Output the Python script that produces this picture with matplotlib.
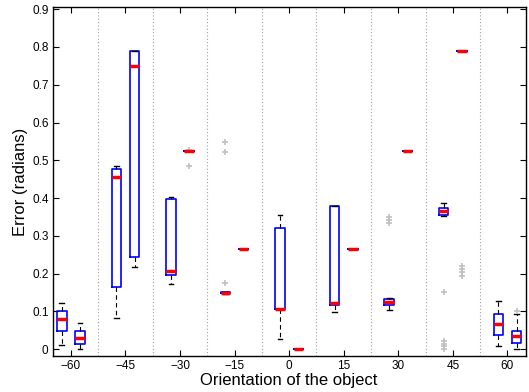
import matplotlib
matplotlib.use("Agg")
import matplotlib.pyplot as plt

# orientation groups (degrees), two boxes per group
orientations = [-60, -45, -30, -15, 0, 15, 30, 45, 60]

# box statistics, two boxes per orientation (left, right)
medians = [0.080, 0.030, 0.456, 0.750, 0.206, 0.525, 0.150, 0.265, 0.107,
           0.001, 0.123, 0.265, 0.124, 0.525, 0.365, 0.790, 0.066, 0.035]
q1 = [0.048, 0.015, 0.165, 0.243, 0.196, 0.525, 0.148, 0.265, 0.107,
      0.001, 0.118, 0.265, 0.116, 0.525, 0.355, 0.790, 0.037, 0.017]
q3 = [0.101, 0.048, 0.477, 0.789, 0.397, 0.525, 0.152, 0.265, 0.322,
      0.001, 0.379, 0.265, 0.132, 0.525, 0.374, 0.790, 0.094, 0.049]
whislo = [0.012, 0.002, 0.083, 0.217, 0.172, 0.525, 0.145, 0.265, 0.027,
          0.001, 0.098, 0.265, 0.104, 0.525, 0.354, 0.790, 0.009, 0.002]
whishi = [0.122, 0.070, 0.486, 0.789, 0.402, 0.525, 0.152, 0.265, 0.355,
          0.001, 0.379, 0.265, 0.135, 0.525, 0.386, 0.790, 0.128, 0.094]
fliers = [[], [], [], [], [], [0.486, 0.527], [0.549, 0.522, 0.175], [], [],
          [], [], [], [0.349, 0.342, 0.334], [], [0.152, 0.022, 0.015, 0.009, 0.002],
          [0.220, 0.212, 0.204, 0.194], [], [0.100]]

plt.rcParams["font.family"] = ["Liberation Sans", "DejaVu Sans"]

fig = plt.figure(figsize=(5.29, 3.92), dpi=100)
ax = fig.add_axes([0.0996, 0.0926, 0.894, 0.8888])

offset = 2.5
positions = []
for o in orientations:
    positions += [o - offset, o + offset]

stats = []
for i in range(len(medians)):
    stats.append({
        "med": medians[i], "q1": q1[i], "q3": q3[i],
        "whislo": whislo[i], "whishi": whishi[i], "fliers": fliers[i],
    })

ax.bxp(
    stats,
    positions=positions,
    widths=2.6,
    capwidths=1.3,
    showfliers=True,
    boxprops=dict(color="#0000ff", linewidth=1.2),
    medianprops=dict(color="#ff0000", linewidth=2.5),
    whiskerprops=dict(color="black", linewidth=0.8, linestyle=(0, (4, 3))),
    capprops=dict(color="black", linewidth=1.0),
    flierprops=dict(marker="+", markeredgecolor="#c0c0c0", markersize=5,
                    markeredgewidth=1.2, linestyle="none"),
    manage_ticks=False,
)

# dotted separators between orientation groups
for o in orientations[:-1]:
    ax.axvline(o + 7.5, color="#a0a0a0", linestyle=(0, (1, 2)), linewidth=0.8, zorder=1)

ax.set_xlim(-65, 65)
ax.set_ylim(-0.017, 0.905)
ax.set_xticks(orientations)
ax.set_yticks([0, 0.1, 0.2, 0.3, 0.4, 0.5, 0.6, 0.7, 0.8, 0.9])
ax.set_yticklabels(["0", "0.1", "0.2", "0.3", "0.4", "0.5", "0.6", "0.7", "0.8", "0.9"])
ax.tick_params(direction="in", top=True, right=True, length=4, width=0.8,
               labelsize=8.5, pad=3)
for s in ax.spines.values():
    s.set_linewidth(1.0)

ax.set_xlabel("Orientation of the object", fontsize=12, labelpad=1)
ax.set_ylabel("Error (radians)", fontsize=12, labelpad=3)

fig.savefig("out.png", dpi=100)
